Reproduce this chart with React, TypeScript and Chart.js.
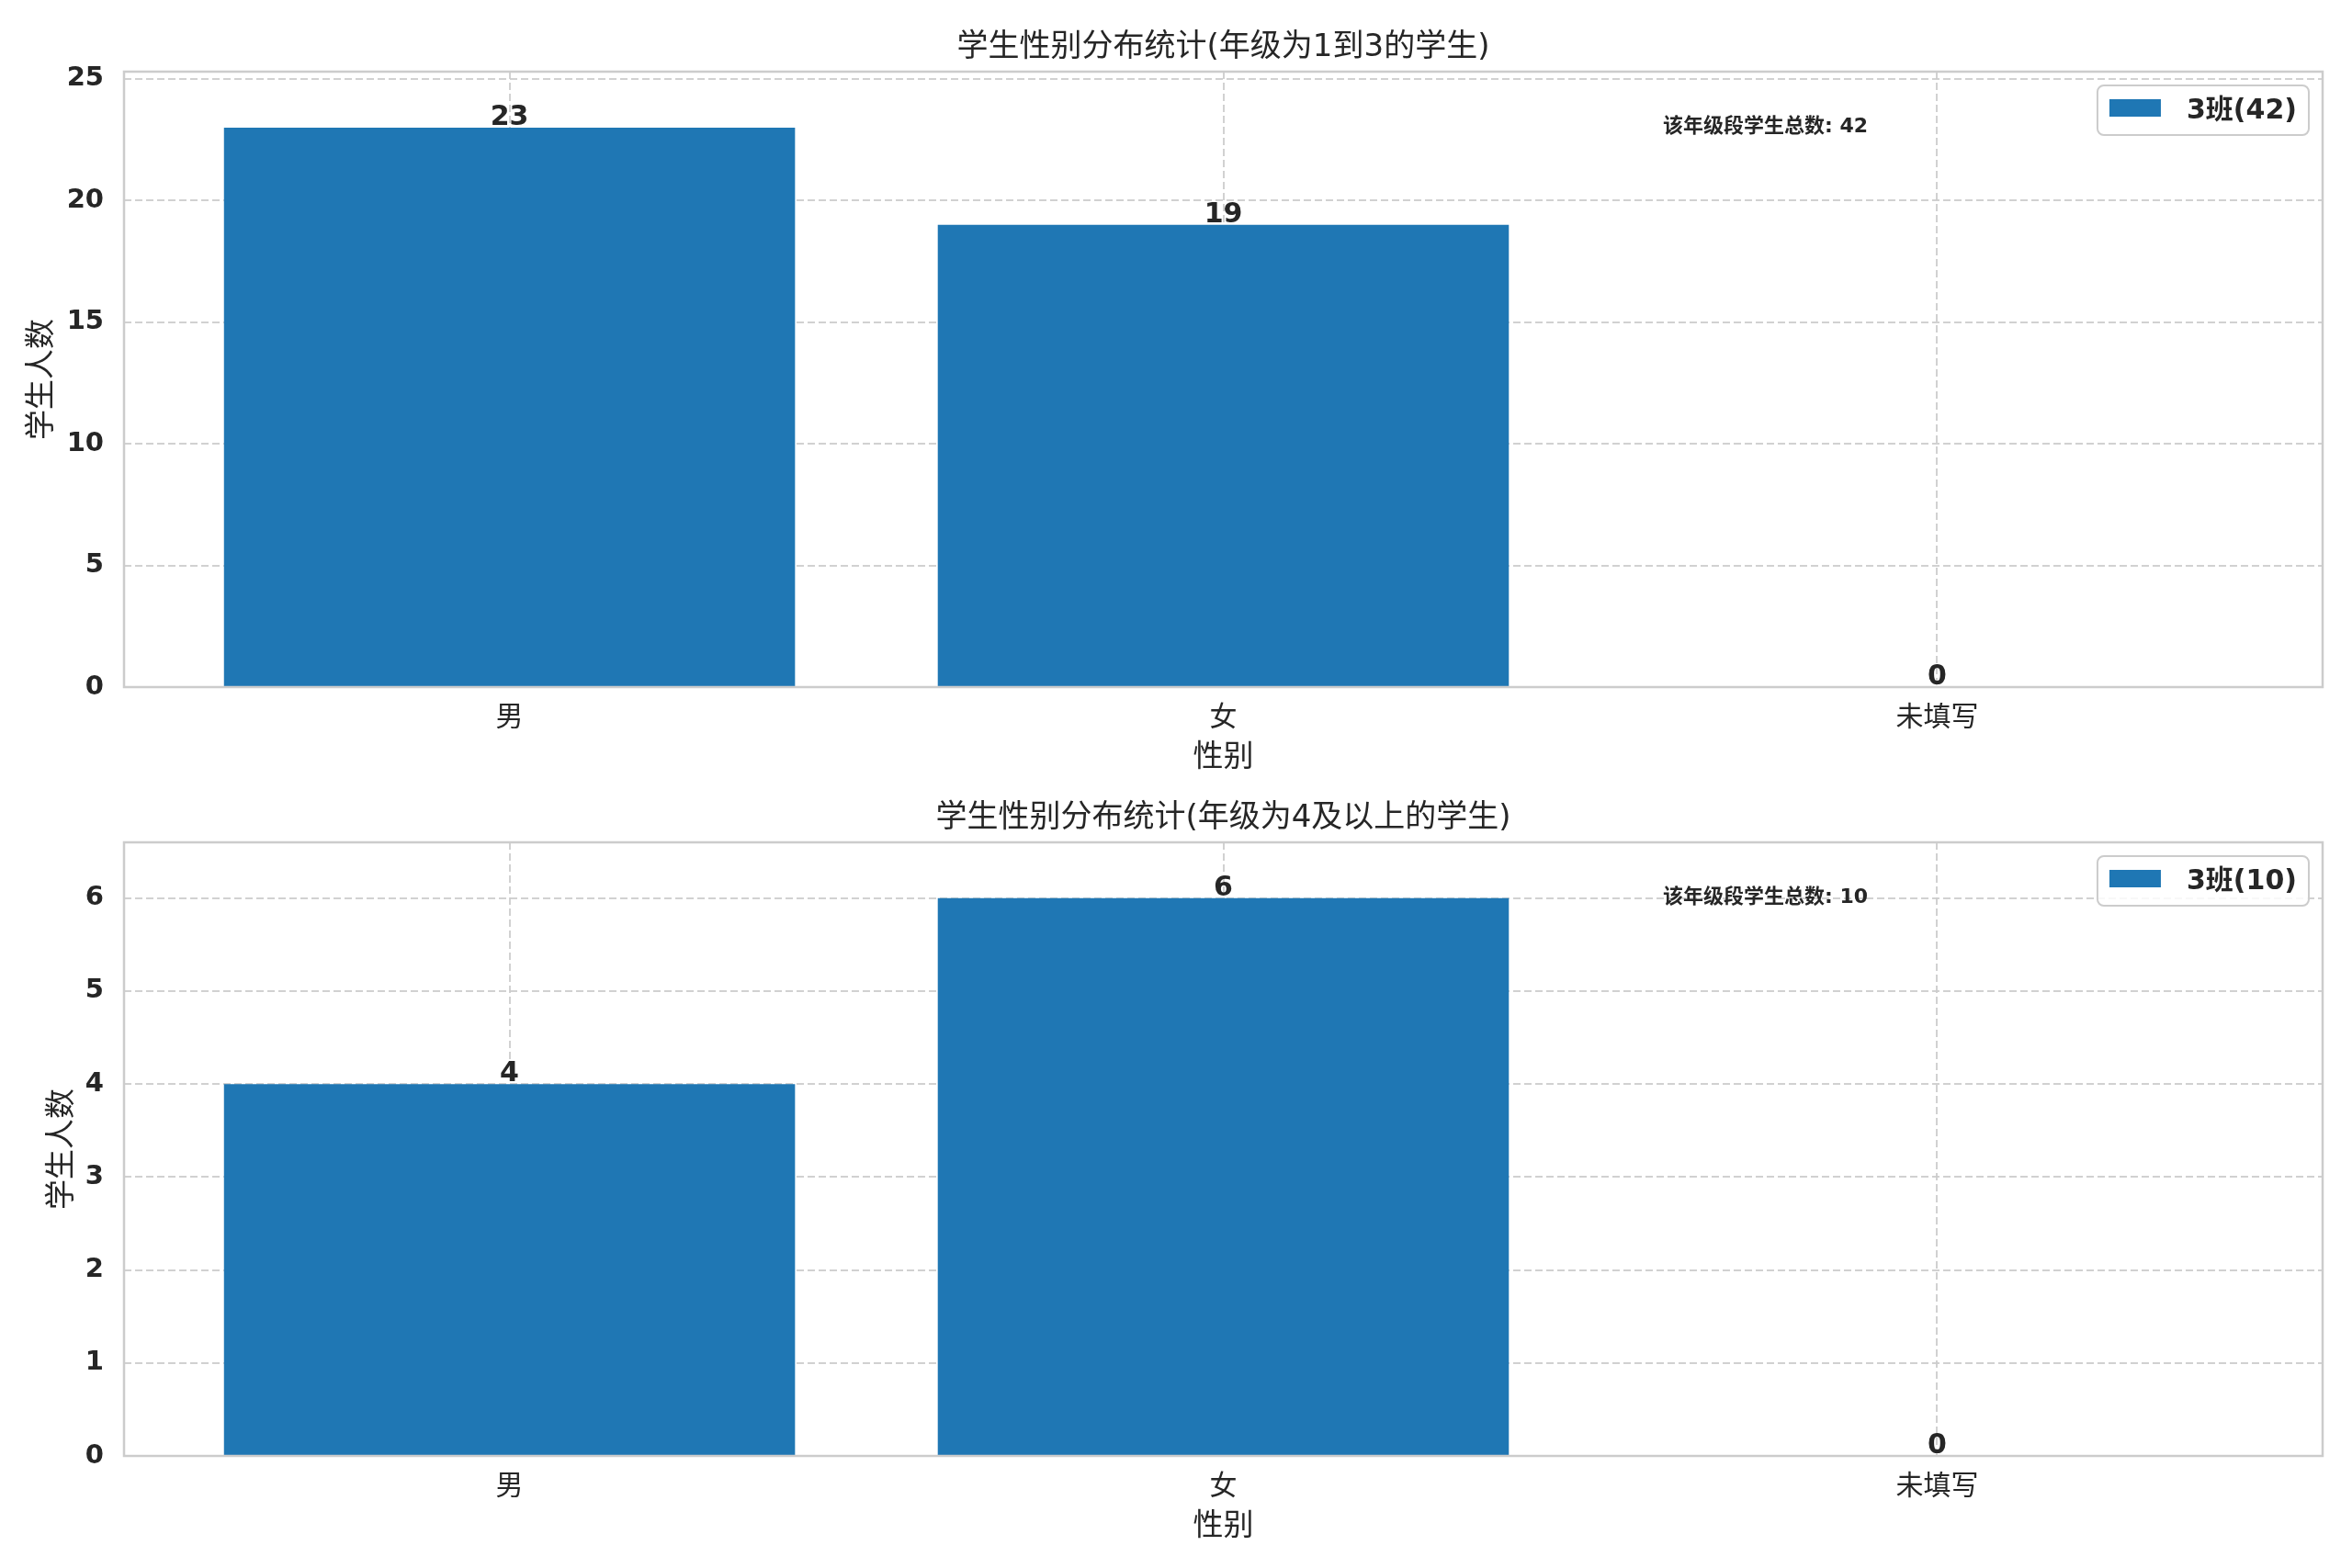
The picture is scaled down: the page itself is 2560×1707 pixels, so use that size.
import React, { useEffect, useRef } from 'react';
import { Chart, registerables } from 'chart.js';

Chart.register(...registerables);

const categories = ['男', '女', '未填写'];
const values1 = [23, 19, 0];
const values2 = [4, 6, 0];
const titles = ['学生性别分布统计(年级为1到3的学生)', '学生性别分布统计(年级为4及以上的学生)'];
const legendLabels = ['3班(42)', '3班(10)'];
const totals = [42, 10];
const annotationPrefix = '该年级段学生总数: ';
const xTitle = '性别';
const yTitle = '学生人数';
const yStep = [5, 1];

const FF = "'DejaVu Sans', 'Noto Sans CJK SC', sans-serif";
const TEXT = '#262626';
const BAR = '#1f77b4';
const SPINE = '#cccccc';

const panels = [
  { values: values1, canvasH: 853, padTop: 78, xAxisH: 105, yTitleX: 46 },
  { values: values2, canvasH: 854, padTop: 64, xAxisH: 122, yTitleX: 68 },
];

function makePlugin(idx: number) {
  return {
    id: 'custom' + idx,
    afterDatasetsDraw(chart: any) {
      const ctx = chart.ctx;
      const { left, right, top, bottom } = chart.chartArea;
      const w = right - left;
      ctx.save();
      // frame
      ctx.strokeStyle = SPINE;
      ctx.lineWidth = 2.5;
      ctx.setLineDash([]);
      ctx.strokeRect(left, top, w, bottom - top);

      // value labels
      ctx.fillStyle = TEXT;
      ctx.font = `bold 30px ${FF}`;
      ctx.textAlign = 'center';
      ctx.textBaseline = 'alphabetic';
      const meta = chart.getDatasetMeta(0);
      const vals = panels[idx].values;
      meta.data.forEach((bar: any, i: number) => {
        ctx.fillText(String(vals[i]), bar.x, bar.y - 3);
      });

      // title
      ctx.font = `34px ${FF}`;
      ctx.fillText(titles[idx], (left + right) / 2, top - 17);

      // x axis title
      ctx.font = `33px ${FF}`;
      ctx.textBaseline = 'middle';
      ctx.fillText(xTitle, (left + right) / 2, bottom + 77);

      // y axis title
      ctx.save();
      ctx.translate(panels[idx].yTitleX, (top + bottom) / 2);
      ctx.rotate(-Math.PI / 2);
      ctx.fillText(yTitle, 0, 0);
      ctx.restore();

      // annotation
      ctx.font = `bold 22px ${FF}`;
      ctx.textAlign = 'left';
      ctx.textBaseline = 'alphabetic';
      ctx.fillText(annotationPrefix + totals[idx], left + 0.7 * w, top + 66);

      // legend
      ctx.font = `bold 30px ${FF}`;
      const label = legendLabels[idx];
      const tw = ctx.measureText(label).width;
      const boxW = 13 + 56 + 28 + tw + 13;
      const boxH = 54;
      const bx = right - 15 - boxW;
      const by = top + 15;
      ctx.beginPath();
      ctx.roundRect(bx, by, boxW, boxH, 7);
      ctx.fillStyle = 'rgba(255,255,255,0.85)';
      ctx.fill();
      ctx.strokeStyle = SPINE;
      ctx.lineWidth = 2;
      ctx.stroke();
      ctx.fillStyle = BAR;
      ctx.fillRect(bx + 13, by + 15, 56, 19);
      ctx.fillStyle = TEXT;
      ctx.fillText(label, bx + 13 + 56 + 28, by + 35.5);
      ctx.restore();
    },
  };
}

function Panel({ idx }: { idx: number }) {
  const ref = useRef<HTMLCanvasElement | null>(null);
  useEffect(() => {
    const p = panels[idx];
    const maxVal = Math.max(...p.values) * 1.1;
    const n = categories.length;
    const margin = (n - 1 + 0.8) * 0.05 + 0.4;
    const chart = new Chart(ref.current as HTMLCanvasElement, {
      type: 'bar',
      data: {
        datasets: [
          {
            label: legendLabels[idx],
            data: categories.map((c, i) => ({ x: i, y: p.values[i] })),
            backgroundColor: BAR,
            borderWidth: 0,
            barPercentage: 0.8,
            categoryPercentage: 1.0,
          },
        ],
      },
      plugins: [makePlugin(idx)],
      options: {
        animation: false,
        responsive: false,
        devicePixelRatio: 1,
        layout: { padding: { top: p.padTop, left: 0, right: 32, bottom: 0 } },
        plugins: {
          legend: { display: false },
          title: { display: false },
          tooltip: { enabled: false },
        },
        scales: {
          x: {
            type: 'linear',
            min: -margin,
            max: n - 1 + margin,
            offset: false,
            grid: {
              offset: false,
              color: 'rgba(204,204,204,0.9)',
              lineWidth: 2,
              drawTicks: false,
            },
            border: { display: false, dash: [8, 4] },
            ticks: {
              stepSize: 1,
              includeBounds: false,
              autoSkip: false,
              maxRotation: 0,
              color: TEXT,
              padding: 16,
              font: { family: FF, size: 30 },
              callback: (v: any) => {
                const k = Math.round(Number(v));
                return Math.abs(Number(v) - k) < 1e-6 && k >= 0 && k < n ? categories[k] : '';
              },
            },
            afterFit: (scale: any) => {
              scale.height = p.xAxisH;
            },
          },
          y: {
            min: 0,
            max: maxVal,
            grid: {
              color: 'rgba(204,204,204,0.9)',
              lineWidth: 2,
              drawTicks: false,
            },
            border: { display: false, dash: [8, 4] },
            ticks: {
              stepSize: yStep[idx],
              includeBounds: false,
              color: TEXT,
              padding: 22,
              font: { family: FF, size: 29, weight: 'bold' },
            },
            afterFit: (scale: any) => {
              scale.width = 135;
            },
          },
        },
      } as any,
    });
    return () => chart.destroy();
  }, [idx]);
  const p = panels[idx];
  return (
    <canvas
      ref={ref}
      width={2560}
      height={p.canvasH}
      style={{ display: 'block', width: 2560, height: p.canvasH }}
    />
  );
}

export default function App() {
  return (
    <div style={{ position: 'absolute', left: 0, top: 0, width: 2560, height: 1707, background: '#fff' }}>
      <Panel idx={0} />
      <Panel idx={1} />
    </div>
  );
}
